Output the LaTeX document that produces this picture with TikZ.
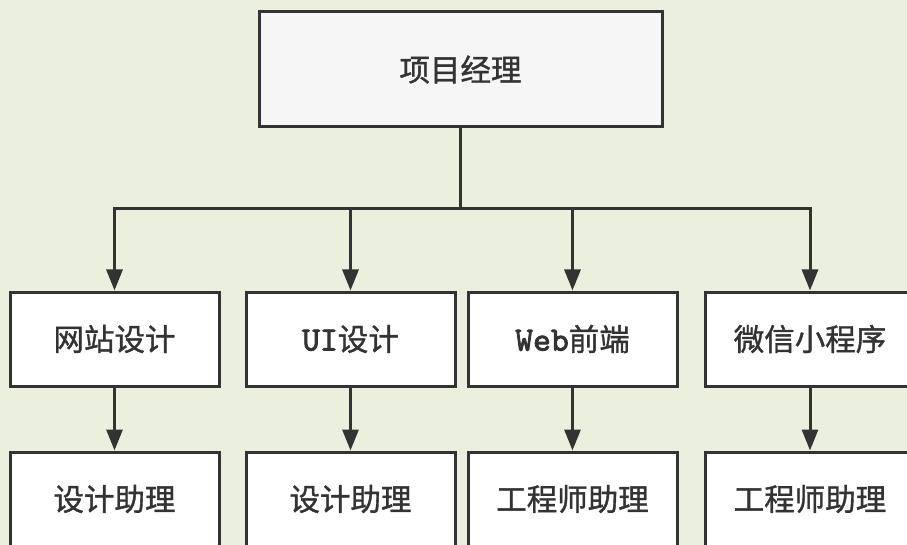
\documentclass[tikz,border=0pt]{standalone}
\usepackage{fontspec}
\setmainfont{Noto Sans CJK SC}[FakeBold=1.2]
\newfontfamily\latinmono{lmmono10-regular.otf}[FakeBold=2.5]
\usepackage{xcolor}
\usetikzlibrary{arrows.meta, positioning}

\definecolor{bgcol}{HTML}{EBEFDD}
\definecolor{linecol}{HTML}{333333}
\definecolor{topfill}{HTML}{F6F6F6}

\tikzset{
  rolebox/.style={draw=linecol, line width=3pt, fill=white, text=linecol,
                  minimum width=209pt, minimum height=94pt, inner sep=0pt,
                  font=\fontsize{30.5}{30.5}\selectfont},
  headbox/.style={rolebox, fill=topfill, minimum width=403pt, minimum height=115pt},
  link/.style={draw=linecol, line width=3pt, -{Triangle[length=21pt,width=16pt]}},
}
\newcommand\latin[1]{{\fontsize{34}{34}\latinmono #1}}

\begin{document}
\begin{tikzpicture}[x=1pt, y=-1pt]
\fill[bgcol] (0,0) rectangle (907,545);
\useasboundingbox (0,0) rectangle (907,545);
%
\node[headbox] (pm) at (460.5,69.5) {项目经理};
%
\node[rolebox] (site) at (114.5,339) {网站设计};
\node[rolebox] (ui)   at (350.5,339) {\latin{UI}设计};
\node[rolebox] (web)  at (572.5,339) {\latin{Web}前端};
\node[rolebox] (mini) at (810,339)   {微信小程序};
%
\node[rolebox] (sitea) at (114.5,499) {设计助理};
\node[rolebox] (uia)   at (350.5,499) {设计助理};
\node[rolebox] (weba)  at (572.5,499) {工程师助理};
\node[rolebox] (minia) at (810,499)   {工程师助理};
%
\coordinate (bus) at (460.5,209);
\draw[draw=linecol, line width=3pt] (pm.south) -- (bus);
\draw[link] (bus) -| (site.north);
\draw[link] (bus) -| (ui.north);
\draw[link] (bus) -| (web.north);
\draw[link] (bus) -| (mini.north);
%
\draw[link] (site.south) -- (sitea.north);
\draw[link] (ui.south) -- (uia.north);
\draw[link] (web.south) -- (weba.north);
\draw[link] (mini.south) -- (minia.north);
%
\end{tikzpicture}
\end{document}
